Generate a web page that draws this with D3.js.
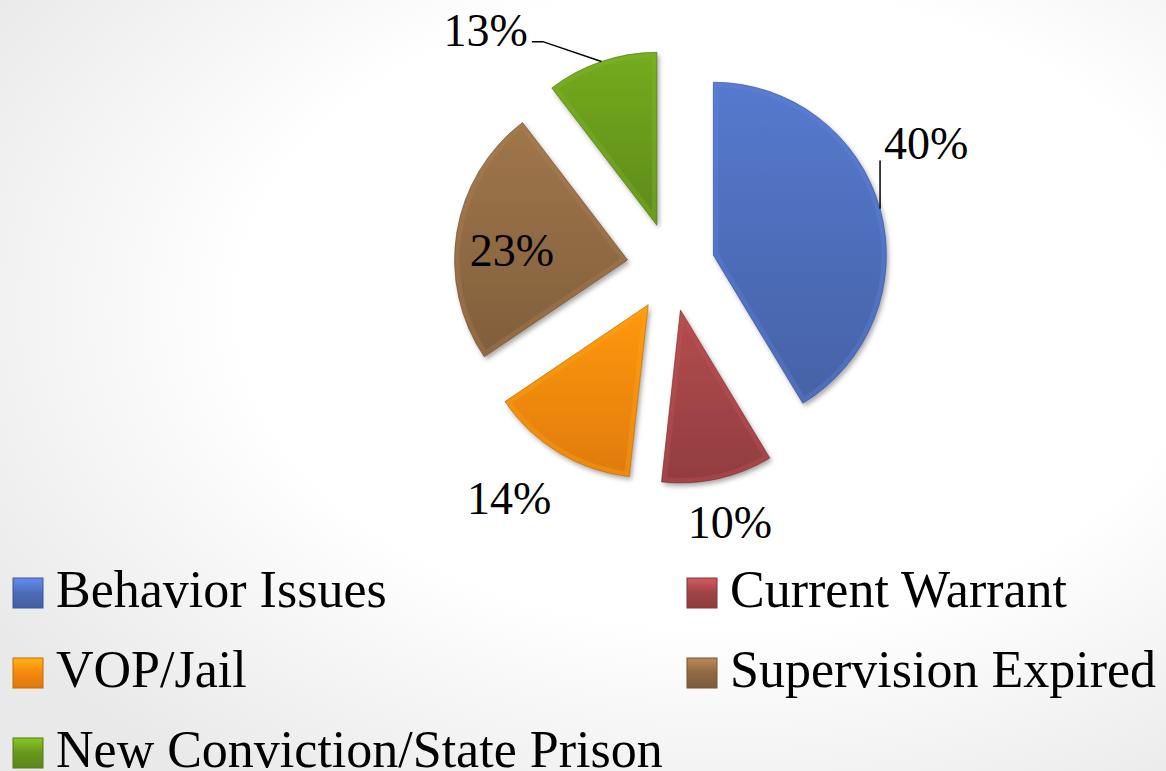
<!DOCTYPE html>
<html>
<head>
<meta charset="utf-8">
<script src="https://cdn.jsdelivr.net/npm/d3@7"></script>
<style>
  html, body { margin: 0; padding: 0; background: #fff; }
  svg { display: block; }
  text { font-family: "Liberation Serif", "DejaVu Serif", serif; fill: #000; }
</style>
</head>
<body>
<svg id="chart" width="1166" height="771"></svg>
<script>
// data
const categories = ['Behavior Issues', 'Current Warrant', 'VOP/Jail', 'Supervision Expired', 'New Conviction/State Prison'];
// slice sizes estimated from the drawn angles (labels below are what the chart prints)
const sliceShares = [41.4, 10.4, 13.8, 24.1, 10.4];
const percentLabels = ['40%', '10%', '14%', '23%', '13%'];

const colors = ['#4c6bb6', '#9f4346', '#f5870e', '#8d6842', '#67971c'];

const width = 1166, height = 771;
const cx = 671, cy = 267;
const radius = 173;
const explode = 44;

// label placement: [angle in degrees, distance from pie centre], plus leader style
const labelLayout = [
  { a: 64, d: 284, leader: 'down' },
  { a: 167, d: 262, leader: null },
  { a: 215, d: 282, leader: null },
  { a: 276, d: 160, leader: null },
  { a: 322, d: 301, leader: 'elbow' }
];

const svg = d3.select('#chart');
const defs = svg.append('defs');

// slide background vignette
const bgGrad = defs.append('radialGradient')
  .attr('id', 'bg').attr('cx', '62%').attr('cy', '40%').attr('r', '75%');
bgGrad.append('stop').attr('offset', '0.55').attr('stop-color', '#ffffff');
bgGrad.append('stop').attr('offset', '1').attr('stop-color', '#e9e9e9');
svg.append('rect').attr('width', width).attr('height', height).attr('fill', 'url(#bg)');

const shadow = defs.append('filter').attr('id', 'shadow')
  .attr('x', '-20%').attr('y', '-20%').attr('width', '140%').attr('height', '140%');
shadow.append('feDropShadow')
  .attr('dx', 2).attr('dy', 3).attr('stdDeviation', 2.5)
  .attr('flood-color', '#000').attr('flood-opacity', 0.35);

colors.forEach((c, i) => {
  const g = defs.append('linearGradient').attr('id', 'fill' + i)
    .attr('x1', 0).attr('y1', 0).attr('x2', 0).attr('y2', 1);
  g.append('stop').attr('offset', 0).attr('stop-color', d3.color(c).brighter(0.35));
  g.append('stop').attr('offset', 1).attr('stop-color', d3.color(c).darker(0.25));

  const s = defs.append('linearGradient').attr('id', 'sw' + i)
    .attr('x1', 0).attr('y1', 0).attr('x2', 0).attr('y2', 1);
  s.append('stop').attr('offset', 0).attr('stop-color', d3.color(c).brighter(0.8));
  s.append('stop').attr('offset', 0.5).attr('stop-color', c);
  s.append('stop').attr('offset', 1).attr('stop-color', d3.color(c).darker(0.3));
});

const pie = d3.pie().sort(null).value(d => d);
const arcs = pie(sliceShares);

const arc = d3.arc().innerRadius(0).outerRadius(radius);

const offsetOf = d => {
  const mid = (d.startAngle + d.endAngle) / 2;
  return [Math.sin(mid) * explode, -Math.cos(mid) * explode];
};

const g = svg.append('g').attr('transform', `translate(${cx},${cy})`);

const slices = g.selectAll('.slice')
  .data(arcs)
  .enter()
  .append('g')
  .attr('class', 'slice')
  .attr('transform', d => `translate(${offsetOf(d)})`);

slices.append('clipPath')
  .attr('id', (d, i) => 'clip' + i)
  .append('path')
  .attr('d', arc);

slices.append('path')
  .attr('d', arc)
  .attr('fill', (d, i) => `url(#fill${i})`)
  .attr('filter', 'url(#shadow)');

// bevel rim
slices.append('path')
  .attr('d', arc)
  .attr('fill', 'none')
  .attr('stroke', (d, i) => d3.color(colors[i]).brighter(0.6))
  .attr('stroke-width', 10)
  .attr('stroke-opacity', 0.35)
  .attr('clip-path', (d, i) => `url(#clip${i})`);

slices.append('path')
  .attr('d', arc)
  .attr('fill', 'none')
  .attr('stroke', (d, i) => d3.color(colors[i]).darker(0.8))
  .attr('stroke-width', 1)
  .attr('stroke-opacity', 0.6);

// percentage labels
const labels = g.selectAll('.pct')
  .data(arcs)
  .enter()
  .append('text')
  .attr('class', 'pct')
  .attr('x', (d, i) => Math.sin(labelLayout[i].a * Math.PI / 180) * labelLayout[i].d)
  .attr('y', (d, i) => -Math.cos(labelLayout[i].a * Math.PI / 180) * labelLayout[i].d)
  .attr('dy', '0.35em')
  .attr('text-anchor', 'middle')
  .style('font-size', '46px')
  .text((d, i) => percentLabels[i]);

// leader lines
labels.each(function(d, i) {
  const kind = labelLayout[i].leader;
  if (!kind) return;
  const bb = this.getBBox();
  const mid = (d.startAngle + d.endAngle) / 2;
  const [ox, oy] = offsetOf(d);
  const px = ox + Math.sin(mid) * radius;
  const py = oy - Math.cos(mid) * radius;
  let pts;
  if (kind === 'down') {
    pts = [[px, bb.y + bb.height - 8], [px, py]];
  } else {
    const sy = bb.y + bb.height * 0.72;
    pts = [[bb.x + bb.width + 4, sy], [bb.x + bb.width + 15, sy], [px, py]];
  }
  g.append('path')
    .attr('d', d3.line()(pts))
    .attr('fill', 'none')
    .attr('stroke', '#000')
    .attr('stroke-width', 1.5);
});

// legend
const legend = svg.append('g');
const colX = [13, 687];
const rowY = [578, 658, 738];
const items = legend.selectAll('.item')
  .data(categories)
  .enter()
  .append('g')
  .attr('class', 'item')
  .attr('transform', (d, i) => `translate(${colX[i % 2]},${rowY[Math.floor(i / 2)]})`);

items.append('rect')
  .attr('width', 30).attr('height', 30)
  .attr('fill', (d, i) => `url(#sw${i})`)
  .attr('stroke', (d, i) => d3.color(colors[i]).darker(0.6))
  .attr('stroke-width', 1);

items.append('text')
  .attr('x', 43)
  .attr('y', 29)
  .style('font-size', '52px')
  .text(d => d);
</script>
</body>
</html>
